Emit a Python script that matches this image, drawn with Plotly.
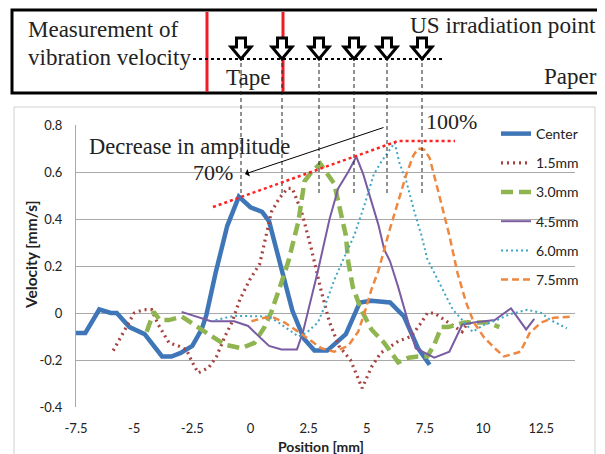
import plotly.graph_objects as go

# ---------------- data ----------------
center_x = [-7.5,-7.1,-6.5,-6.0,-5.75,-5.2,-4.55,-3.8,-3.4,-3.0,-2.5,-2.1,-1.9,-1.5,-1.0,-0.5,0.0,0.5,0.8,1.3,1.8,2.3,2.75,3.3,4.1,4.7,5.2,6.0,6.6,7.2,7.7]
center_y = [-0.085,-0.085,0.015,0.0,0.0,-0.06,-0.09,-0.185,-0.185,-0.17,-0.14,-0.07,-0.01,0.17,0.37,0.495,0.45,0.43,0.39,0.2,0.01,-0.11,-0.16,-0.16,-0.09,0.045,0.052,0.045,-0.015,-0.15,-0.22]

mm15_x = [-5.9,-5.5,-5.2,-5.0,-4.6,-4.25,-3.96,-3.5,-3.1,-2.75,-2.5,-2.25,-1.8,-1.46,-1.1,-0.8,-0.46,-0.04,0.4,0.9,1.25,1.6,1.8,2.2,2.6,3.05,3.4,3.8,4.3,4.8,5.2,5.6,6.35,6.9,7.35,7.6,7.9,8.5,9.1,9.4]
mm15_y = [-0.16,-0.09,-0.04,0.0,0.014,0.014,-0.05,-0.127,-0.14,-0.157,-0.21,-0.255,-0.233,-0.185,-0.1,-0.04,0.056,0.14,0.21,0.43,0.49,0.53,0.53,0.43,0.28,0.09,-0.04,-0.14,-0.2,-0.32,-0.23,-0.17,-0.12,-0.1,-0.04,0.0,0.0,-0.04,-0.08,-0.03]

mm30_x = [-4.46,-4.16,-3.9,-3.5,-2.96,-2.4,-1.8,-1.1,-0.4,0.17,0.6,0.9,1.33,1.63,2.06,2.32,2.62,3.0,3.6,3.9,4.1,4.2,4.4,4.76,5.2,5.75,6.35,6.8,7.2,7.6,7.9,8.2,8.5,9.2,9.6,10.2,10.7]
mm30_y = [-0.08,0.005,-0.03,-0.03,-0.015,-0.05,-0.09,-0.135,-0.15,-0.127,-0.06,0.005,0.13,0.22,0.39,0.56,0.6,0.635,0.55,0.43,0.33,0.22,0.11,0.014,-0.07,-0.127,-0.21,-0.19,-0.185,-0.185,-0.135,-0.06,-0.06,-0.04,-0.04,-0.04,-0.06]

mm45_x = [-2.96,-2.5,-1.7,-0.7,-0.1,0.47,0.8,1.33,2.0,2.26,2.6,2.9,3.4,3.77,4.2,4.55,4.85,5.2,5.5,5.75,6.0,6.35,6.7,7.1,7.9,8.55,9.1,9.6,10.5,11.2,11.85,12.2]
mm45_y = [0.005,-0.01,-0.035,-0.035,-0.055,-0.11,-0.14,-0.155,-0.155,-0.08,0.056,0.18,0.4,0.53,0.6,0.665,0.59,0.47,0.375,0.27,0.22,0.11,-0.015,-0.15,-0.19,-0.165,-0.05,-0.04,-0.03,0.02,-0.07,-0.025]

mm60_x = [-1.5,-0.7,0.77,1.2,1.63,2.06,2.4,2.9,3.2,3.6,4.0,4.46,4.9,5.3,5.6,6.2,6.4,6.7,7.05,7.35,7.6,8.2,8.7,9.2,9.55,10.05,10.6,11.1,11.9,12.5,12.9,13.6]
mm60_y = [-0.03,-0.012,-0.015,-0.04,-0.07,-0.1,-0.085,-0.04,0.03,0.14,0.23,0.33,0.46,0.59,0.64,0.725,0.64,0.56,0.43,0.33,0.23,0.11,0.014,-0.04,-0.08,-0.05,-0.03,-0.007,0.014,0.0,-0.03,-0.065]

mm75_x = [0.04,0.6,1.0,1.46,2.06,2.6,3.05,3.6,4.2,4.63,4.9,5.2,5.5,5.97,6.35,6.7,7.0,7.2,7.47,7.7,8.0,8.3,8.55,8.9,9.27,9.6,10.05,10.5,10.9,11.6,12.0,12.5,13.05,13.9]
mm75_y = [-0.035,-0.02,-0.02,-0.04,-0.08,-0.12,-0.15,-0.165,-0.14,-0.08,0.0,0.1,0.18,0.35,0.47,0.59,0.67,0.7,0.695,0.66,0.545,0.43,0.33,0.17,0.044,-0.04,-0.105,-0.15,-0.185,-0.165,-0.085,-0.04,-0.02,-0.015]

series_names = ["Center", "1.5mm", "3.0mm", "4.5mm", "6.0mm", "7.5mm"]
x_tickvals = [-7.5, -5, -2.5, 0, 2.5, 5, 7.5, 10, 12.5]
x_ticktext = ["-7.5", "-5", "-2.5", "0", "2.5", "5", "7.5", "10", "12.5"]
y_tickvals = [0.8, 0.6, 0.4, 0.2, 0, -0.2, -0.4]
y_ticktext = ["0.8", "0.6", "0.4", "0.2", "0", "-0.2", "-0.4"]

# ---------------- styles ----------------
styles = [
    dict(color="#3F76B8", width=4.5, dash="solid"),
    dict(color="#A8423F", width=3.2, dash="2px,4px"),
    dict(color="#8FB550", width=4.5, dash="12px,6px"),
    dict(color="#7A5CA3", width=2, dash="solid"),
    dict(color="#3FA6C4", width=2, dash="2px,3px"),
    dict(color="#EE8740", width=2.5, dash="7px,4px"),
]
xs = [center_x, mm15_x, mm30_x, mm45_x, mm60_x, mm75_x]
ys = [center_y, mm15_y, mm30_y, mm45_y, mm60_y, mm75_y]

fig = go.Figure()
for nm, x, y, st in zip(series_names, xs, ys, styles):
    fig.add_trace(go.Scatter(x=x, y=y, mode="lines", name=nm, legendgroup=nm,
                             line=dict(color=st["color"], width=st["width"], dash=st["dash"])))

# page has an 8px body margin: figure is drawn at page offset (8, 8)
OFF = 8
PAGE_W, PAGE_H = 605, 454
W, H = PAGE_W - OFF, PAGE_H - OFF
# plot area in page pixels
L, R, T, B = 76, 575, 125, 407
def px(x):
    return (x - L) / (R - L)
def py(y):
    return (B - y) / (B - T)

shapes = []
shapes.append(dict(type="rect", xref="paper", yref="paper", x0=px(14), x1=px(595), y0=py(470), y1=py(107),
                   line=dict(color="#D0D0D0", width=1), layer="below"))
shapes.append(dict(type="rect", xref="paper", yref="paper", x0=px(12), x1=px(603), y0=py(93), y1=py(10),
                   line=dict(color="black", width=3)))
for rx in [207, 283]:
    shapes.append(dict(type="line", xref="paper", yref="paper", x0=px(rx), x1=px(rx), y0=py(92), y1=py(12),
                       line=dict(color="#EE1C25", width=3)))
shapes.append(dict(type="line", xref="paper", yref="paper", x0=px(193), x1=px(445), y0=py(59), y1=py(59),
                   line=dict(color="black", width=2, dash="dot")))
arrow_px = [241, 282, 319, 354, 387, 422]
for ax_ in arrow_px:
    shapes.append(dict(type="line", xref="paper", yref="paper", x0=px(ax_), x1=px(ax_), y0=py(193), y1=py(60),
                       line=dict(color="#222222", width=1, dash="4px,3px")))
for cx in arrow_px:
    pts = [(cx-4.5, 38), (cx+4.5, 38), (cx+4.5, 47), (cx+10, 47), (cx, 59), (cx-10, 47), (cx-4.5, 47)]
    path = "M " + " L ".join(f"{px(a):.5f},{py(b):.5f}" for a, b in pts) + " Z"
    shapes.append(dict(type="path", xref="paper", yref="paper", path=path,
                       fillcolor="white", line=dict(color="black", width=3)))
pts = [(213, 207), (398, 141), (455, 141)]
path = "M " + " L ".join(f"{px(a):.5f},{py(b):.5f}" for a, b in pts)
shapes.append(dict(type="path", xref="paper", yref="paper", path=path,
                   line=dict(color="#FF2020", width=2.5, dash="dot")))

serif = "Liberation Serif, Times New Roman, serif"
annotations = []
def txt(t, x, y, xanchor="left", size=23):
    annotations.append(dict(text=t, x=px(x), y=py(y), xref="paper", yref="paper", showarrow=False,
                            xanchor=xanchor, yanchor="middle", font=dict(family=serif, size=size, color="#222222")))
txt("Measurement of", 26, 30, size=23)
txt("vibration velocity", 26, 57, size=23)
txt("US irradiation point", 408, 25, size=23.2)
txt("Tape", 224, 77)
txt("Paper", 599, 76, xanchor="right")
txt("Decrease in amplitude", 87, 146, size=22.5)
txt("70%", 191, 172, size=22)
txt("100%", 424, 122, size=22)
annotations.append(dict(text="", x=px(245), y=py(174), xref="paper", yref="paper", showarrow=True,
                        ax=140, ay=-47, arrowhead=1, arrowsize=1.3, arrowwidth=1, arrowcolor="black"))
annotations.append(dict(text="<b>Velocity [mm/s]</b>", x=px(31), y=py(255), xref="paper", yref="paper",
                        xanchor="center", yanchor="middle",
                        showarrow=False, textangle=-90, font=dict(family="Lato", size=15.5, color="#222222")))
annotations.append(dict(text="<b>Position [mm]</b>", x=px(321), y=py(446), xref="paper", yref="paper",
                        xanchor="center", yanchor="middle",
                        showarrow=False, font=dict(family="Lato", size=14, color="#222222")))

fig.update_layout(
    width=W, height=H,
    margin=dict(l=L - OFF, r=PAGE_W - R, t=T - OFF, b=PAGE_H - B, autoexpand=False),
    paper_bgcolor="white", plot_bgcolor="white",
    font=dict(family="Lato", size=13, color="#222222"),
    shapes=shapes, annotations=annotations,
    legend=dict(x=px(496), y=py(118), xanchor="left", yanchor="top", bgcolor="rgba(0,0,0,0)",
                tracegroupgap=8, font=dict(family="Lato", size=14, color="#222222")),
    showlegend=True,
)
fig.update_xaxes(range=[-7.5, 13.95], tickvals=x_tickvals, ticktext=x_ticktext, showgrid=False,
                 zeroline=False, showline=False, ticks="outside", ticklen=9, tickcolor="rgba(0,0,0,0)")
fig.update_yaxes(range=[-0.4, 0.8], tickvals=y_tickvals, ticktext=y_ticktext, showgrid=True,
                 gridcolor="#A8A8A8", gridwidth=1, zeroline=False, showline=True, linecolor="#A8A8A8",
                 linewidth=1, ticks="outside", ticklen=10, tickcolor="rgba(0,0,0,0)")

fig.write_html("out.html")
